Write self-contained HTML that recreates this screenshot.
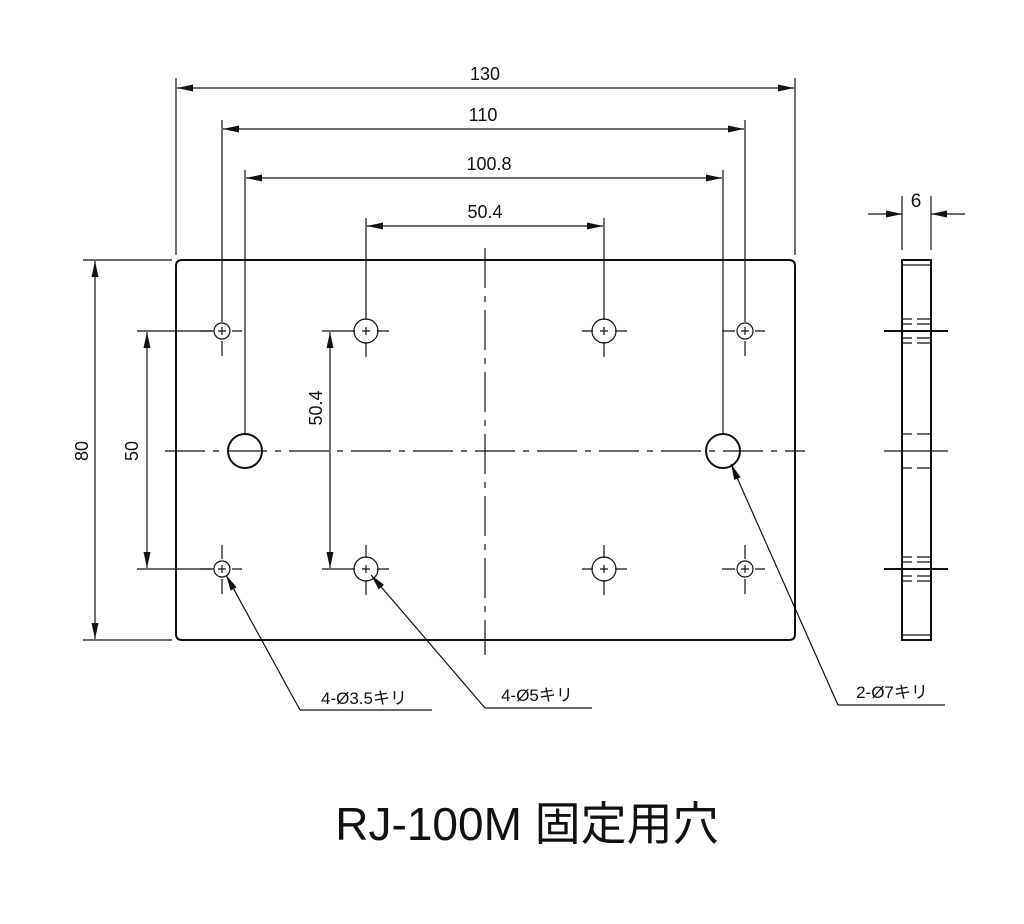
<!DOCTYPE html>
<html><head><meta charset="utf-8"><style>
body{margin:0;background:#fff}
svg{display:block}
text{font-family:"Liberation Sans","Noto Sans CJK JP",sans-serif;fill:#111}
</style></head><body>
<svg width="1024" height="924" viewBox="0 0 1024 924" xmlns="http://www.w3.org/2000/svg">
<defs><marker id="a" viewBox="0 0 16 7" refX="16" refY="3.5" markerWidth="16" markerHeight="7" markerUnits="userSpaceOnUse" orient="auto-start-reverse"><path d="M0,0L16,3.5L0,7z" fill="#111"/></marker></defs>
<g stroke="#111" fill="none">
<path d="M182,260H789Q795,260 795,266V634Q795,640 789,640H182Q176,640 176,634V266Q176,260 182,260Z" stroke-width="2"/>
<g stroke-width="1.2">
<path d="M485,248V655" stroke-dasharray="40,8,6,8"/>
<path d="M165,451H805" stroke-dasharray="40,8,6,8"/>
<circle cx="222" cy="331" r="8"/><circle cx="745" cy="331" r="8"/><circle cx="222" cy="569" r="8"/><circle cx="745" cy="569" r="8"/>
<circle cx="366" cy="331" r="12"/><circle cx="604" cy="331" r="12"/><circle cx="366" cy="569" r="12"/><circle cx="604" cy="569" r="12"/>
<circle cx="245" cy="451" r="17" stroke-width="2"/><circle cx="723" cy="451" r="17" stroke-width="2"/>
<path d="M218,331h8M222,327v8M741,331h8M745,327v8M218,569h8M222,565v8M741,569h8M745,565v8M362,331h8M366,327v8M600,331h8M604,327v8M362,569h8M366,565v8M600,569h8M604,565v8"/>
<path d="M200,331h12M232,331h10M222,341v15M722,331h13M755,331h10M745,341v15M200,569h12M232,569h10M222,545v14M722,569h13M755,569h10M745,545v14M322,331h33M377,331h12M366,342v15M582,331h11M615,331h12M604,342v15M322,569h33M377,569h12M366,545v13M582,569h11M615,569h12M604,545v13M604,580v15M366,580v15M222,579v15M745,579v15"/>
<path d="M176,78V255M795,78V255M222,120V322M745,120V322M245,170V435M723,170V435M366,218V320M604,218V320"/>
<path d="M83,260H172M83,640H172M137,331H214M137,569H214"/>
</g>
<g stroke-width="1.2" marker-start="url(#a)" marker-end="url(#a)">
<path d="M177,88H794"/><path d="M223,129H744"/><path d="M246,178H722"/><path d="M367,226H603"/>
<path d="M95,261V639"/><path d="M147,332V568"/><path d="M330,332V568"/>
</g>
<g stroke-width="1.2">
<rect x="902" y="260" width="29" height="380" stroke-width="2"/>
<path d="M902,265H931M902,635H931"/>
<path d="M902,196V250M931,196V250"/>
<path d="M884,331H948M884,569H948" stroke-width="2"/>
<path d="M884,451H948"/>
<path d="M902,319h10M917,319h14M902,324h10M917,324h14M902,338h10M917,338h14M902,343h10M917,343h14M902,557h10M917,557h14M902,562h10M917,562h14M902,576h10M917,576h14M902,581h10M917,581h14M902,434h10M917,434h14M902,468h10M917,468h14"/>
<path d="M868,214H902" marker-end="url(#a)"/>
<path d="M965,214H931" marker-end="url(#a)"/>
</g>
<g stroke-width="1.2">
<path d="M300,710L226,575" marker-end="url(#a)"/><path d="M300,710H432"/>
<path d="M485,708L371,575" marker-end="url(#a)"/><path d="M485,708H592"/>
<path d="M838,705L731,464" marker-end="url(#a)"/><path d="M838,705H945"/>
</g>
</g>
<g font-size="18" text-anchor="middle">
<text x="485" y="80">130</text>
<text x="483" y="121">110</text>
<text x="489" y="170">100.8</text>
<text x="485" y="218">50.4</text>
<text x="916" y="207" font-size="19">6</text>
<text transform="translate(88,451) rotate(-90)">80</text>
<text transform="translate(138,451) rotate(-90)">50</text>
<text transform="translate(322,408) rotate(-90)">50.4</text>
<text x="364" y="704" font-size="17">4-Ø3.5キリ</text>
<text x="537" y="701" font-size="17">4-Ø5キリ</text>
<text x="892" y="698" font-size="17">2-Ø7キリ</text>
<text x="527" y="840" font-size="46">RJ-100M 固定用穴</text>
</g>
</svg>
</body></html>
